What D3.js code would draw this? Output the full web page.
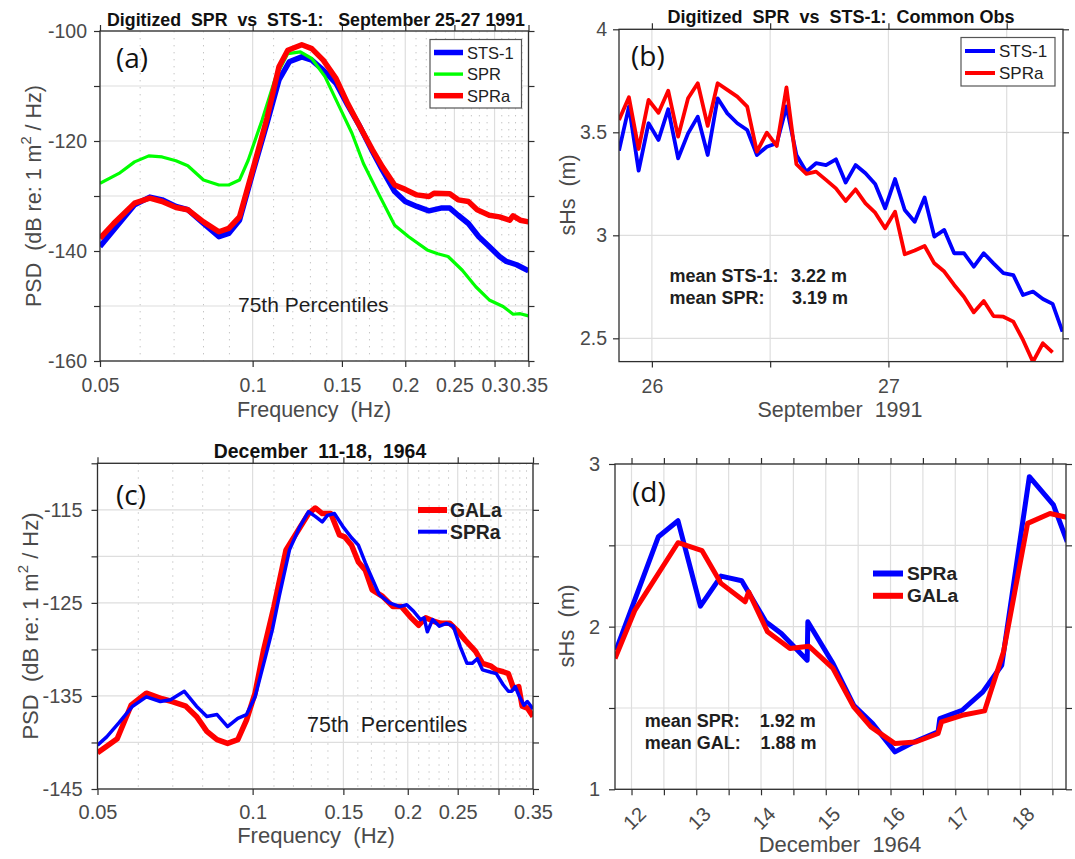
<!DOCTYPE html>
<html>
<head>
<meta charset="utf-8">
<title>Digitized SPR vs STS-1 / GAL</title>
<script src="https://cdn.jsdelivr.net/npm/d3@7"></script>
<style>
  body { margin: 0; background: #ffffff; }
  svg { display: block; font-family: "Liberation Sans", Arial, Helvetica, sans-serif; }
  svg text { white-space: pre; }
</style>
</head>
<body>
<svg id="chart" width="1075" height="859"></svg>
<script>
// (a) 75th percentile spectra, September 25-27 1991
const aStsFreq = [0.05, 0.0532, 0.0585, 0.0627, 0.0663, 0.0706, 0.0745, 0.080, 0.0858, 0.0897, 0.0942, 0.100, 0.1067, 0.1127, 0.1181, 0.125, 0.1308, 0.1378, 0.146, 0.154, 0.1628, 0.1723, 0.1803, 0.1906, 0.200, 0.2108, 0.2227, 0.2352, 0.2448, 0.2543, 0.2664, 0.2793, 0.2928, 0.3068, 0.3165, 0.3316, 0.35];
const aStsPsd = [-139.2, -136.2, -131.6, -130.2, -130.7, -131.9, -132.5, -135.0, -137.4, -136.8, -134.4, -125.8, -116.8, -108.9, -105.6, -104.7, -105.3, -107.1, -109.5, -113.5, -117.4, -121.9, -125.3, -129.2, -131.0, -131.9, -132.7, -132.2, -132.2, -133.5, -135.0, -137.4, -139.2, -141.0, -141.9, -142.5, -143.6];
const aSprFreq = [0.05, 0.0545, 0.0585, 0.0624, 0.0663, 0.0706, 0.0745, 0.080, 0.0858, 0.0897, 0.0942, 0.098, 0.1044, 0.1111, 0.1173, 0.1242, 0.1308, 0.1389, 0.1483, 0.157, 0.1654, 0.1763, 0.1906, 0.2031, 0.2209, 0.2318, 0.2429, 0.2591, 0.2755, 0.2928, 0.3118, 0.3264, 0.3371, 0.35];
const aSprPsd = [-127.7, -125.9, -123.8, -122.7, -122.9, -123.6, -124.5, -127.1, -128.0, -128.0, -127.1, -123.5, -116.2, -108.3, -104.1, -103.8, -105.0, -108.3, -113.8, -118.6, -124.1, -129.2, -135.3, -137.4, -139.8, -140.5, -141.0, -143.5, -146.5, -148.9, -150.1, -151.5, -151.4, -151.8];
const aSpraFreq = [0.05, 0.0532, 0.0585, 0.0627, 0.0663, 0.0706, 0.0745, 0.080, 0.0858, 0.0897, 0.0942, 0.100, 0.1067, 0.1127, 0.1173, 0.125, 0.1308, 0.1378, 0.146, 0.154, 0.1628, 0.1723, 0.1803, 0.1906, 0.200, 0.2108, 0.2227, 0.2279, 0.2448, 0.2543, 0.2664, 0.2772, 0.2928, 0.3068, 0.3213, 0.3264, 0.3371, 0.35];
const aSpraPsd = [-137.7, -135.0, -131.3, -130.4, -131.0, -132.1, -132.5, -134.7, -136.5, -135.9, -133.8, -125.3, -115.9, -106.5, -103.5, -102.5, -103.2, -105.3, -108.6, -113.2, -117.4, -121.6, -124.7, -128.0, -128.8, -129.8, -130.1, -129.5, -129.6, -130.7, -131.0, -132.5, -133.5, -133.8, -134.4, -133.6, -134.4, -134.7];

// (b) hourly common observations, day of September 1991
const bObsDay = [25.861, 25.903, 25.944, 25.986, 26.028, 26.069, 26.111, 26.153, 26.194, 26.236, 26.278, 26.319, 26.361, 26.403, 26.444, 26.486, 26.528, 26.569, 26.611, 26.653, 26.694, 26.736, 26.778, 26.819, 26.861, 26.903, 26.944, 26.986, 27.028, 27.069, 27.111, 27.153, 27.194, 27.236, 27.278, 27.319, 27.361, 27.403, 27.444, 27.486, 27.528, 27.569, 27.611, 27.653, 27.694, 27.736];
const bStsHs = [3.411, 3.625, 3.314, 3.544, 3.463, 3.612, 3.374, 3.495, 3.576, 3.39, 3.665, 3.592, 3.544, 3.511, 3.39, 3.43, 3.447, 3.625, 3.39, 3.309, 3.35, 3.341, 3.369, 3.256, 3.341, 3.301, 3.249, 3.131, 3.273, 3.123, 3.066, 3.184, 2.994, 3.026, 2.913, 2.913, 2.848, 2.913, 2.864, 2.816, 2.807, 2.71, 2.727, 2.691, 2.667, 2.532];
const bSpraHs = [3.56, 3.67, 3.419, 3.657, 3.595, 3.702, 3.479, 3.665, 3.738, 3.531, 3.738, 3.706, 3.673, 3.625, 3.406, 3.498, 3.434, 3.718, 3.345, 3.298, 3.309, 3.269, 3.228, 3.167, 3.223, 3.155, 3.11, 3.034, 3.115, 2.908, 2.926, 2.948, 2.864, 2.824, 2.759, 2.702, 2.626, 2.681, 2.608, 2.605, 2.581, 2.492, 2.386, 2.476, 2.432];

// (c) 75th percentile spectra, December 11-18 1964
const cGalFreq = [0.05, 0.0521, 0.0546, 0.0581, 0.0622, 0.0667, 0.0698, 0.0742, 0.0778, 0.0815, 0.0853, 0.0894, 0.0936, 0.0973, 0.1011, 0.105, 0.110, 0.1161, 0.1226, 0.1284, 0.1323, 0.1365, 0.1418, 0.1474, 0.1508, 0.1556, 0.1604, 0.1655, 0.1706, 0.1787, 0.1871, 0.1945, 0.2022, 0.210, 0.2167, 0.2252, 0.2322, 0.2413, 0.2488, 0.2586, 0.2708, 0.2793, 0.2903, 0.297, 0.3064, 0.3135, 0.3209, 0.3284, 0.3335, 0.3413, 0.35];
const cGalPsd = [-141.1, -140.4, -139.6, -136.0, -134.7, -135.3, -135.6, -136.1, -137.2, -138.8, -139.7, -140.1, -139.7, -137.6, -134.7, -130.1, -125.4, -119.3, -117.2, -115.4, -114.8, -115.4, -115.4, -117.7, -117.9, -118.8, -120.6, -121.5, -123.6, -124.3, -125.4, -125.4, -126.5, -127.4, -126.6, -127.0, -127.2, -127.2, -127.9, -129.0, -130.2, -131.5, -131.8, -132.2, -132.4, -132.6, -134.2, -134.0, -136.1, -136.3, -137.2];
const cSpraFreq = [0.05, 0.0521, 0.055, 0.0585, 0.0622, 0.0662, 0.0693, 0.0737, 0.0778, 0.0815, 0.0853, 0.0894, 0.0936, 0.0973, 0.1011, 0.1059, 0.1092, 0.1126, 0.1179, 0.1235, 0.1284, 0.1323, 0.1365, 0.1397, 0.1441, 0.1497, 0.1556, 0.1604, 0.1655, 0.1694, 0.176, 0.1843, 0.193, 0.1991, 0.2053, 0.2117, 0.2151, 0.2183, 0.2235, 0.2304, 0.2377, 0.2451, 0.2528, 0.2606, 0.2667, 0.2729, 0.2793, 0.288, 0.297, 0.3064, 0.3135, 0.3184, 0.3233, 0.3284, 0.336, 0.3413, 0.35];
const cSpraPsd = [-140.3, -139.4, -137.9, -136.1, -135.1, -135.6, -135.4, -134.5, -136.1, -137.2, -137.0, -138.3, -137.4, -137.0, -135.1, -130.8, -127.9, -124.3, -119.3, -116.8, -115.2, -115.7, -116.3, -115.6, -115.4, -116.8, -118.0, -118.8, -120.7, -122.0, -124.1, -125.0, -125.4, -125.2, -125.9, -126.8, -126.6, -128.1, -126.8, -127.5, -127.2, -127.5, -129.7, -131.5, -131.5, -131.0, -132.2, -132.4, -132.6, -133.8, -134.5, -134.5, -134.0, -134.9, -136.0, -135.6, -136.4];

// (d) sHs, day of December 1964
const dSprDay = [11.761, 12.415, 12.718, 13.064, 13.383, 13.702, 14.074, 14.314, 14.713, 14.723, 15.112, 15.431, 15.723, 16.069, 16.362, 16.734, 16.761, 17.106, 17.426, 17.718, 18.144, 18.516, 18.729];
const dSprHs = [1.855, 2.553, 2.651, 2.126, 2.311, 2.282, 2.03, 1.958, 1.794, 2.03, 1.773, 1.517, 1.404, 1.23, 1.291, 1.353, 1.435, 1.486, 1.599, 1.763, 2.922, 2.748, 2.522];
const dGalDay = [11.745, 12.053, 12.718, 13.09, 13.383, 13.755, 13.809, 14.101, 14.447, 14.739, 15.112, 15.431, 15.697, 16.069, 16.388, 16.734, 16.787, 17.106, 17.452, 17.745, 18.117, 18.463, 18.729];
const dGalHs = [1.804, 2.102, 2.516, 2.467, 2.266, 2.153, 2.214, 1.968, 1.866, 1.88, 1.743, 1.507, 1.384, 1.281, 1.291, 1.343, 1.414, 1.455, 1.482, 1.845, 2.635, 2.696, 2.672];

// ticks
const freqTicks = [0.05, 0.1, 0.15, 0.2, 0.25, 0.3, 0.35];
const freqTickText = ["0.05", "0.1", "0.15", "0.2", "0.25", "0.3", "0.35"];
const freqTickTextC = ["0.05", "0.1", "0.15", "0.2", "0.25", "", "0.35"];
const freqMinor = [0.06, 0.07, 0.08, 0.09, 0.11, 0.12, 0.13, 0.14, 0.16, 0.17, 0.18, 0.19, 0.21, 0.22, 0.23, 0.24, 0.26, 0.27, 0.28, 0.29, 0.31, 0.32, 0.33, 0.34];
const aPsdTicks = [-160, -150, -140, -130, -120, -110, -100];
const aPsdTickText = ["-160", "", "-140", "", "-120", "", "-100"];
const bDayTicks = [26, 26.5, 27, 27.5];
const bDayTickText = ["26", "", "27", ""];
const bHsTicks = [2.5, 3, 3.5, 4];
const bHsTickText = ["2.5", "3", "3.5", "4"];
const cPsdTicks = [-145, -140, -135, -130, -125, -120, -115, -110];
const cPsdTickText = ["-145", "", "-135", "", "-125", "", "-115", ""];
const dDayTicks = [12, 12.5, 13, 13.5, 14, 14.5, 15, 15.5, 16, 16.5, 17, 17.5, 18, 18.5];
const dDayTickText = ["12", "", "13", "", "14", "", "15", "", "16", "", "17", "", "18", ""];
const dHsTicks = [1, 1.5, 2, 2.5, 3];
const dHsTickText = ["1", "", "2", "", "3"];

const BLUE = "#0000ff", RED = "#ff0000", GREEN = "#00ff00";
const AXIS = "#2e2e2e", GRID = "#dedede", MINOR = "#c4c4c4";
const TICK_TXT = "#4a4a4a", LABEL_TXT = "#4a4a4a", INK = "#1e1e1e";
const LETTER_FONT = "'Open Sans', 'Noto Sans', sans-serif";

const svg = d3.select("#chart");

function drawPanel(p) {
    const { name, box, x, y } = p;
    const g = svg.append("g").attr("class", "panel-" + name);
    const w = box.right - box.left;
    const h = box.bottom - box.top;

    g.append("clipPath").attr("id", "clip-" + name)
        .append("rect")
        .attr("x", box.left).attr("y", box.top)
        .attr("width", w).attr("height", h);

    g.selectAll(".minor-grid").data(p.xMinor || []).join("line")
        .attr("class", "minor-grid")
        .attr("x1", d => x(d)).attr("x2", d => x(d))
        .attr("y1", box.top).attr("y2", box.bottom)
        .attr("stroke", MINOR)
        .attr("stroke-width", 1)
        .attr("stroke-dasharray", "1.4,5.6");

    g.selectAll(".x-grid").data(p.xTicks).join("line")
        .attr("class", "x-grid")
        .attr("x1", d => x(d)).attr("x2", d => x(d))
        .attr("y1", box.top).attr("y2", box.bottom)
        .attr("stroke", GRID)
        .attr("stroke-width", 1.2);

    g.selectAll(".y-grid").data(p.yTicks).join("line")
        .attr("class", "y-grid")
        .attr("x1", box.left).attr("x2", box.right)
        .attr("y1", d => y(d)).attr("y2", d => y(d))
        .attr("stroke", GRID)
        .attr("stroke-width", 1.2);

    p.series.forEach(s => {
        g.append("path")
            .datum(d3.zip(s.xs, s.ys))
            .attr("clip-path", `url(#clip-${name})`)
            .attr("fill", "none")
            .attr("stroke", s.color)
            .attr("stroke-width", s.width)
            .attr("stroke-linejoin", "round")
            .attr("d", d3.line().x(d => x(d[0])).y(d => y(d[1])));
    });

    g.append("rect")
        .attr("x", box.left).attr("y", box.top)
        .attr("width", w).attr("height", h)
        .attr("fill", "none")
        .attr("stroke", AXIS)
        .attr("stroke-width", 1.3);

    const bottom = g.append("g")
        .attr("transform", `translate(0,${box.bottom})`)
        .call(d3.axisBottom(x).tickValues(p.xTicks)
            .tickFormat((d, i) => p.xTickText[i])
            .tickSize(6).tickSizeOuter(0).tickPadding(p.xPad));
    const top = g.append("g")
        .attr("transform", `translate(0,${box.top})`)
        .call(d3.axisTop(x).tickValues(p.xTicks).tickFormat(() => "").tickSize(6).tickSizeOuter(0));
    const left = g.append("g")
        .attr("transform", `translate(${box.left},0)`)
        .call(d3.axisLeft(y).tickValues(p.yTicks)
            .tickFormat((d, i) => p.yTickText[i])
            .tickSize(6).tickSizeOuter(0).tickPadding(p.yPad));
    const right = g.append("g")
        .attr("transform", `translate(${box.right},0)`)
        .call(d3.axisRight(y).tickValues(p.yTicks).tickFormat(() => "").tickSize(6).tickSizeOuter(0));

    [bottom, top, left, right].forEach(a => {
        a.select(".domain").remove();
        a.attr("font-family", null).attr("font-size", p.tickSize);
        a.selectAll(".tick line").attr("stroke", AXIS).attr("stroke-width", 1.2);
        a.selectAll(".tick text").attr("fill", TICK_TXT);
    });

    if (p.rotateX) {
        bottom.selectAll(".tick text")
            .attr("y", 0).attr("dy", null)
            .attr("text-anchor", "middle")
            .attr("dominant-baseline", "central")
            .attr("transform", "translate(2.5,29) rotate(-45)");
    }
    return g;
}

function title(x, y, size, str) {
    svg.append("text")
        .attr("x", x).attr("y", y)
        .attr("text-anchor", "middle")
        .attr("font-weight", "bold")
        .attr("font-size", size)
        .attr("fill", "#111")
        .text(str);
}

function xLabel(x, y, size, str) {
    svg.append("text")
        .attr("x", x).attr("y", y)
        .attr("text-anchor", "middle")
        .attr("font-size", size)
        .attr("fill", LABEL_TXT)
        .text(str);
}

function yLabel(cx, cy, size, parts) {
    const t = svg.append("text")
        .attr("transform", `translate(${cx},${cy}) rotate(-90)`)
        .attr("text-anchor", "middle")
        .attr("dominant-baseline", "central")
        .attr("font-size", size)
        .attr("fill", LABEL_TXT);
    parts.forEach(pt => {
        const s = t.append("tspan").text(pt.text);
        if (pt.sup) s.attr("font-size", size * 0.68).attr("dy", -8);
        if (pt.after) s.attr("dy", 8);
    });
}

function letter(x, y, str) {
    svg.append("text")
        .attr("x", x).attr("y", y)
        .attr("font-family", LETTER_FONT)
        .attr("font-size", 28)
        .attr("fill", "#111")
        .text(str);
}

function note(x, y, size, str, bold) {
    svg.append("text")
        .attr("x", x).attr("y", y)
        .attr("font-size", size)
        .attr("font-weight", bold ? "bold" : null)
        .attr("fill", INK)
        .text(str);
}

function legend(items, opts) {
    if (opts.box) {
        svg.append("rect")
            .attr("x", opts.box[0]).attr("y", opts.box[1])
            .attr("width", opts.box[2]).attr("height", opts.box[3])
            .attr("fill", "#fff")
            .attr("stroke", "#555")
            .attr("stroke-width", 1.2);
    }
    items.forEach((it, i) => {
        const cy = opts.y0 + i * opts.dy;
        svg.append("line")
            .attr("x1", opts.x0).attr("x2", opts.x1)
            .attr("y1", cy).attr("y2", cy)
            .attr("stroke", it.color)
            .attr("stroke-width", it.width);
        svg.append("text")
            .attr("x", opts.tx).attr("y", cy)
            .attr("dominant-baseline", "central")
            .attr("font-size", opts.size)
            .attr("font-weight", opts.bold ? "bold" : null)
            .attr("fill", "#222")
            .text(it.name);
    });
}

// ---------- panel (a) ----------
const boxA = { left: 100, right: 528.5, top: 31, bottom: 361 };
const xA = d3.scaleLog().domain([0.05, 0.35]).range([boxA.left, boxA.right]);
const yA = d3.scaleLinear().domain([-160, -100]).range([boxA.bottom, boxA.top]);
drawPanel({
    name: "a", box: boxA, x: xA, y: yA,
    xTicks: freqTicks, xTickText: freqTickText, xMinor: freqMinor,
    yTicks: aPsdTicks, yTickText: aPsdTickText,
    xPad: 11, yPad: 7, tickSize: 19.5,
    series: [
        { xs: aStsFreq, ys: aStsPsd, color: BLUE, width: 5.5 },
        { xs: aSprFreq, ys: aSprPsd, color: GREEN, width: 3.2 },
        { xs: aSpraFreq, ys: aSpraPsd, color: RED, width: 5.5 }
    ]
});
title(316, 26, 17.8, "Digitized  SPR  vs  STS-1:   September 25-27 1991");
xLabel(314, 417, 21.5, "Frequency  (Hz)");
yLabel(34, 196, 21.5, [{ text: "PSD  (dB re: 1 m" }, { text: "2", sup: true }, { text: " / Hz)", after: true }]);
letter(116, 68, "(a)");
note(238, 312, 21, "75th Percentiles", false);
legend([
    { name: "STS-1", color: BLUE, width: 5.5 },
    { name: "SPR", color: GREEN, width: 3.4 },
    { name: "SPRa", color: RED, width: 5.5 }
], { box: [430, 39.5, 91.5, 68.5], x0: 434, x1: 463, tx: 467, y0: 52.5, dy: 21.6, size: 16.5 });

// ---------- panel (b) ----------
const boxB = { left: 619, right: 1063, top: 29.3, bottom: 361.6 };
const xB = d3.scaleLinear().domain([25.861, 27.738]).range([boxB.left, boxB.right]);
const yB = d3.scaleLinear().domain([2.387, 4]).range([boxB.bottom, boxB.top]);
drawPanel({
    name: "b", box: boxB, x: xB, y: yB,
    xTicks: bDayTicks, xTickText: bDayTickText,
    yTicks: bHsTicks, yTickText: bHsTickText,
    xPad: 12, yPad: 6, tickSize: 19.5,
    series: [
        { xs: bObsDay, ys: bStsHs, color: BLUE, width: 3.8 },
        { xs: bObsDay.slice(0, bSpraHs.length), ys: bSpraHs, color: RED, width: 3.8 }
    ]
});
title(841, 23, 18, "Digitized  SPR  vs  STS-1:  Common Obs");
xLabel(840, 417, 21.5, "September  1991");
yLabel(568, 195, 21.5, [{ text: "sHs  (m)" }]);
letter(631, 66, "(b)");
legend([
    { name: "STS-1", color: BLUE, width: 4 },
    { name: "SPRa", color: RED, width: 4 }
], { box: [961, 37.5, 94, 48.5], x0: 965, x1: 995, tx: 999, y0: 51, dy: 22, size: 17 });
svg.append("text").attr("x", 669.5).attr("y", 281.5)
    .attr("font-size", 18).attr("font-weight", "bold").attr("fill", INK)
    .call(t => {
        t.append("tspan").text("mean STS-1:");
        t.append("tspan").attr("x", 791).text("3.22 m");
    });
svg.append("text").attr("x", 669.5).attr("y", 303.5)
    .attr("font-size", 18).attr("font-weight", "bold").attr("fill", INK)
    .call(t => {
        t.append("tspan").text("mean SPR:");
        t.append("tspan").attr("x", 792).text("3.19 m");
    });

// ---------- panel (c) ----------
const boxC = { left: 97.5, right: 533, top: 463.3, bottom: 789 };
const xC = d3.scaleLog().domain([0.05, 0.35]).range([boxC.left, boxC.right]);
const yC = d3.scaleLinear().domain([-145, -110]).range([boxC.bottom, boxC.top]);
drawPanel({
    name: "c", box: boxC, x: xC, y: yC,
    xTicks: freqTicks, xTickText: freqTickTextC, xMinor: freqMinor,
    yTicks: cPsdTicks, yTickText: cPsdTickText,
    xPad: 10, yPad: 9, tickSize: 20,
    series: [
        { xs: cGalFreq, ys: cGalPsd, color: RED, width: 5.5 },
        { xs: cSpraFreq, ys: cSpraPsd, color: BLUE, width: 3.5 }
    ]
});
title(320, 458, 19.4, "December  11-18,  1964");
xLabel(316, 843, 22, "Frequency  (Hz)");
yLabel(30, 626, 22, [{ text: "PSD  (dB re: 1 m" }, { text: "2", sup: true }, { text: " / Hz)", after: true }]);
letter(116, 505, "(c)");
note(307, 732, 21.5, "75th  Percentiles", false);
legend([
    { name: "GALa", color: RED, width: 6 },
    { name: "SPRa", color: BLUE, width: 4 }
], { x0: 418, x1: 447, tx: 450, y0: 510, dy: 21.7, size: 19.4, bold: true });

// ---------- panel (d) ----------
const boxD = { left: 615, right: 1066, top: 464, bottom: 789.3 };
const xD = d3.scaleLinear().domain([11.745, 18.71]).range([boxD.left, boxD.right]);
const yD = d3.scaleLinear().domain([1, 3]).range([boxD.bottom, boxD.top]);
drawPanel({
    name: "d", box: boxD, x: xD, y: yD,
    xTicks: dDayTicks, xTickText: dDayTickText,
    yTicks: dHsTicks, yTickText: dHsTickText,
    xPad: 10, yPad: 9, tickSize: 20, rotateX: true,
    series: [
        { xs: dSprDay, ys: dSprHs, color: BLUE, width: 5 },
        { xs: dGalDay, ys: dGalHs, color: RED, width: 5 }
    ]
});
xLabel(840, 852, 22, "December  1964");
yLabel(566, 626, 22, [{ text: "sHs  (m)" }]);
letter(632, 502, "(d)");
legend([
    { name: "SPRa", color: BLUE, width: 6 },
    { name: "GALa", color: RED, width: 6 }
], { x0: 873, x1: 903, tx: 907, y0: 573.5, dy: 22.3, size: 19.2, bold: true });
svg.append("text").attr("x", 644.7).attr("y", 726.5)
    .attr("font-size", 18).attr("font-weight", "bold").attr("fill", INK)
    .call(t => {
        t.append("tspan").text("mean SPR:");
        t.append("tspan").attr("x", 759.8).text("1.92 m");
    });
svg.append("text").attr("x", 644.7).attr("y", 749)
    .attr("font-size", 18).attr("font-weight", "bold").attr("fill", INK)
    .call(t => {
        t.append("tspan").text("mean GAL:");
        t.append("tspan").attr("x", 760.5).text("1.88 m");
    });
</script>
</body>
</html>
